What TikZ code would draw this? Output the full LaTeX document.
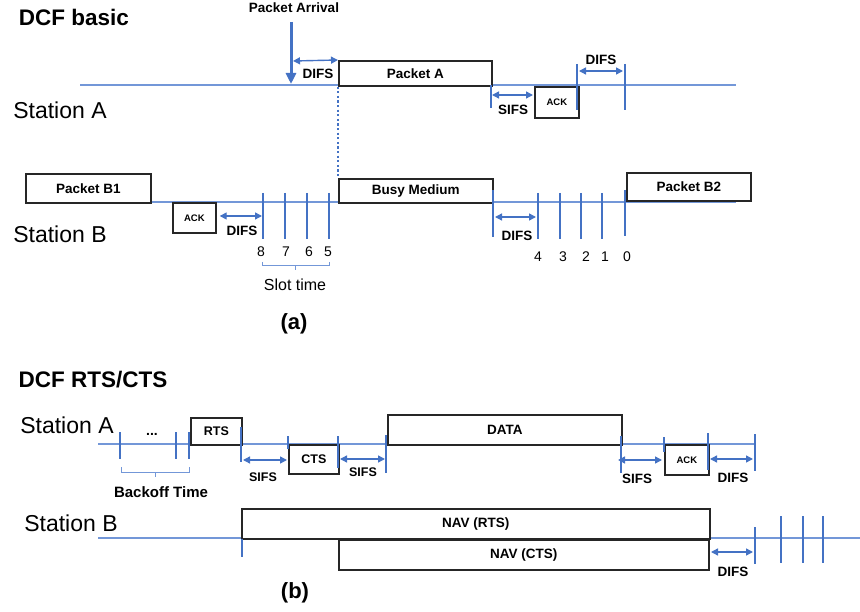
\documentclass[tikz,border=0pt]{standalone}
\usepackage{fontspec}
\setmainfont{Liberation Sans}
\usetikzlibrary{arrows.meta}

\definecolor{tickblue}{HTML}{4472C4}
\definecolor{lineblue}{HTML}{7397D8}
\definecolor{boxedge}{HTML}{262626}

\tikzset{
  timeline/.style={lineblue, line width=1.1pt},
  tickmark/.style={tickblue, line width=2.3pt},
  gap/.style={tickblue, line width=1.4pt,
    {Triangle[length=7pt,width=7pt]}-{Triangle[length=7pt,width=7pt]}},
  frame/.style={draw=boxedge, line width=1.7pt, fill=white, inner sep=0pt,
    anchor=north west, font=\bfseries\fontsize{13.5}{16}\selectfont},
  smallframe/.style={frame, font=\bfseries\fontsize{9.5}{11}\selectfont},
  midframe/.style={frame, font=\bfseries\fontsize{12.5}{15}\selectfont},
  lbl/.style={inner sep=0pt, font=\bfseries\fontsize{13.5}{16}\selectfont},
  midlbl/.style={inner sep=0pt, font=\bfseries\fontsize{12.5}{15}\selectfont},
  title/.style={inner sep=0pt, font=\bfseries\fontsize{22.5}{26}\selectfont},
  station/.style={inner sep=0pt, font=\fontsize{23}{27}\selectfont},
  slotnum/.style={inner sep=0pt, font=\fontsize{14}{16}\selectfont},
  caption/.style={inner sep=0pt, font=\bfseries\fontsize{22}{26}\selectfont},
  bracket/.style={lineblue, line width=1pt},
}

\begin{document}
\begin{tikzpicture}[x=1pt, y=-1pt]
\useasboundingbox (0,0) rectangle (860,612);

% ===================== (a) DCF basic =====================
\node[title] (titleA) at (74,17) {DCF basic};

% station A
\node[station] (staA) at (60,110) {Station A};
\draw[timeline] (80,85) -- (736,85);

% packet arrival marker
\node[lbl] (arrival) at (294,8) {Packet Arrival};
\coordinate (arrTop) at (291,22);
\coordinate (arrBot) at (291,84);
\draw[tickblue, line width=3pt, -{Triangle[length=11pt,width=10pt]}] (arrTop) -- (arrBot);

\node[frame, minimum width=153pt, minimum height=25pt] (pktA) at (338,60) {Packet A};
\coordinate (difsA0) at (293,61);
\draw[gap] (difsA0) -- (pktA.north west);
\node[lbl] (difsAlbl) at (318,74) {DIFS};

% dotted link from packet A down to the busy medium of station B
\draw[tickblue, line width=2pt, dash pattern=on 2.2pt off 2.4pt] (pktA.south west) -- (338,178);

% SIFS + ACK on station A
\draw[tickmark] (491,85) -- (491,108);
\node[smallframe, minimum width=44pt, minimum height=31pt] (ackA) at (534,86) {ACK};
\coordinate (sifsA0) at (492,95);
\coordinate (sifsA1) at (533,95);
\draw[gap] (sifsA0) -- (sifsA1);
\node[lbl] (sifsAlbl) at (513,110) {SIFS};

\draw[tickmark] (577,64) -- (577,110);
\draw[tickmark] (625,64) -- (625,110);
\coordinate (difsA2) at (579,71);
\coordinate (difsA3) at (623,71);
\draw[gap] (difsA2) -- (difsA3);
\node[lbl] (difsA2lbl) at (601,60) {DIFS};

% station B
\node[station] (staB) at (60,234) {Station B};
\draw[timeline] (80,202) -- (736,202);

\node[frame, minimum width=125pt, minimum height=29pt] (pktB1) at (25,173) {Packet B1};
\node[smallframe, minimum width=43pt, minimum height=30pt] (ackB) at (172,202) {ACK};
\coordinate (difsB1) at (262,216);
\draw[gap] (ackB.east |- difsB1) ++(3,0) coordinate (difsB0) -- (difsB1);
\node[lbl] (difsBlbl) at (242,231) {DIFS};

% first backoff slots
\foreach \x in {263,285,307,329} \draw[tickmark] (\x,193) -- (\x,239);
\node[slotnum] (n8) at (261,252) {8};
\node[slotnum] (n7) at (286,252) {7};
\node[slotnum] (n6) at (309,252) {6};
\node[slotnum] (n5) at (328,252) {5};
\draw[bracket] (262,262) -- (262,266) -- (329,266) -- (329,262);
\draw[bracket] (295,266) -- (295,270);
\node[inner sep=0pt, font=\fontsize{16}{19}\selectfont] (slot) at (295,285) {Slot time};

\node[frame, minimum width=154pt, minimum height=24pt] (busy) at (338,178) {Busy Medium};

\draw[tickmark] (493,190) -- (493,237);
\coordinate (difsB2) at (495,217);
\coordinate (difsB3) at (536,217);
\draw[gap] (difsB2) -- (difsB3);
\node[lbl] (difsB2lbl) at (517,236) {DIFS};

% remaining backoff slots
\foreach \x in {538,560,581,602} \draw[tickmark] (\x,193) -- (\x,239);
\draw[tickmark] (625,190) -- (625,236);
\node[slotnum] (n4) at (538,257) {4};
\node[slotnum] (n3) at (563,257) {3};
\node[slotnum] (n2) at (586,257) {2};
\node[slotnum] (n1) at (605,257) {1};
\node[slotnum] (n0) at (627,257) {0};

\node[frame, minimum width=124pt, minimum height=28pt] (pktB2) at (626,172) {Packet B2};

\node[caption] (capA) at (294,324) {(a)};

% ===================== (b) DCF RTS/CTS =====================
\node[title] (titleB) at (93,380) {DCF RTS/CTS};

% station A
\node[station] (staA2) at (67,425) {Station A};
\draw[timeline] (98,444) -- (755,444);

\draw[tickmark] (120,432) -- (120,459);
\draw[tickmark] (176,432) -- (176,459);
\draw[tickmark] (189,432) -- (189,459);
\node[inner sep=0pt, font=\bfseries\fontsize{14}{16}\selectfont] (dots) at (152,434) {...};
\draw[bracket] (121,467) -- (121,472) -- (189,472) -- (189,467);
\draw[bracket] (155,472) -- (155,477);
\node[inner sep=0pt, font=\bfseries\fontsize{15}{18}\selectfont] (backoff) at (161,492) {Backoff Time};

\node[midframe, minimum width=51pt, minimum height=27pt] (rts) at (190,417) {RTS};
\draw[tickmark] (241,427) -- (241,462);
\coordinate (sifs1a) at (243,460);
\coordinate (sifs1b) at (287,460);
\draw[gap] (sifs1a) -- (sifs1b);
\node[midlbl] (sifs1lbl) at (263,477) {SIFS};

\node[midframe, minimum width=50pt, minimum height=29pt] (cts) at (288,444) {CTS};
\draw[tickmark] (288,436) -- (288,449);
\draw[tickmark] (338,436) -- (338,468);
\coordinate (sifs2a) at (340,459);
\coordinate (sifs2b) at (385,459);
\draw[gap] (sifs2a) -- (sifs2b);
\node[midlbl] (sifs2lbl) at (363,472) {SIFS};

\draw[tickmark] (386,435) -- (386,473);
\node[frame, minimum width=234pt, minimum height=30pt] (data) at (387,414) {DATA};

\draw[tickmark] (621,436) -- (621,473);
\coordinate (sifs3a) at (618,460);
\coordinate (sifs3b) at (662,460);
\draw[gap] (sifs3a) -- (sifs3b);
\node[lbl] (sifs3lbl) at (637,479) {SIFS};

\node[smallframe, minimum width=44pt, minimum height=30pt] (ack2) at (664,444) {ACK};
\draw[tickmark] (664,437) -- (664,452);
\draw[tickmark] (708,433) -- (708,470);
\coordinate (difs4a) at (710,459);
\coordinate (difs4b) at (753,459);
\draw[gap] (difs4a) -- (difs4b);
\node[lbl] (difs4lbl) at (733,478) {DIFS};
\draw[tickmark] (755,434) -- (755,471);

% station B
\node[station] (staB2) at (71,523) {Station B};
\draw[timeline] (98,538) -- (860,538);
\node[frame, minimum width=468pt, minimum height=30pt] (navRts) at (241,508) {NAV (RTS)};
\node[frame, minimum width=370pt, minimum height=30pt] (navCts) at (338,539) {NAV (CTS)};
\draw[tickmark] (242,539) -- (242,557);

\coordinate (difs5a) at (711,552);
\coordinate (difs5b) at (753,552);
\draw[gap] (difs5a) -- (difs5b);
\node[lbl] (difs5lbl) at (733,572) {DIFS};
\draw[tickmark] (755,527) -- (755,564);
\foreach \x in {781,803,823} \draw[tickmark] (\x,516) -- (\x,563);

\node[caption] (capB) at (295,593) {(b)};
\end{tikzpicture}
\end{document}
